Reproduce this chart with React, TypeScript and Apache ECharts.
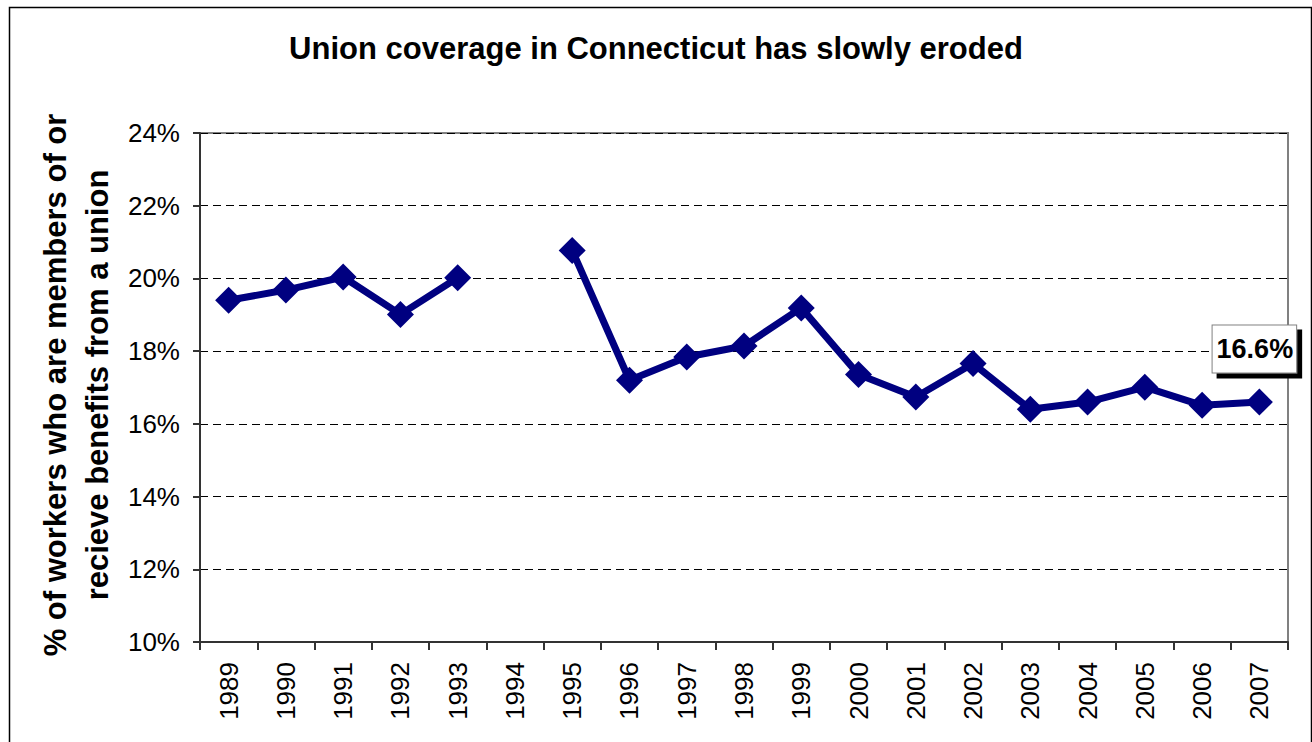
import React, { useEffect, useRef } from "react";
import * as echarts from "echarts";

const years = ["1989","1990","1991","1992","1993","1994","1995","1996","1997","1998","1999","2000","2001","2002","2003","2004","2005","2006","2007"];
const coverage: (number | null)[] = [19.4,19.68,20.04,19.01,20.02,null,20.77,17.2,17.84,18.14,19.19,17.36,16.74,17.66,16.4,16.6,17.01,16.51,16.6];
const yTicks = { min: 10, max: 24, interval: 2 };
const titleText = "Union coverage in Connecticut has slowly eroded";
const yAxisTitle = ["% of workers who are members of or", "recieve benefits from a union"];
const lastLabel = "16.6%";

const FONT = "'Liberation Sans', Arial, sans-serif";

export default function App() {
  const ref = useRef<HTMLDivElement>(null);
  useEffect(() => {
    if (!ref.current) return;
    const chart = echarts.init(ref.current, null, { renderer: "svg" });
    const data = coverage.map((v, i) =>
      i === coverage.length - 1
        ? {
            value: v,
            label: {
              show: true,
              formatter: lastLabel,
              position: "top",
              offset: [-5, -11],
              color: "#000",
              fontFamily: FONT,
              fontWeight: "bold",
              fontSize: 27,
              lineHeight: 30,
              backgroundColor: "#fff",
              borderColor: "#808080",
              borderWidth: 1,
              padding: [8, 3, 9, 4],
              shadowColor: "#000",
              shadowBlur: 0,
              shadowOffsetX: 5,
              shadowOffsetY: 5,
            },
          }
        : v
    );
    chart.setOption({
      animation: false,
      backgroundColor: "#fff",
      title: {
        text: titleText,
        left: "center",
        top: 28,
        textStyle: { fontFamily: FONT, fontWeight: "bold", fontSize: 31, color: "#000" },
      },
      graphic: [
        {
          type: "rect",
          left: 7,
          top: 5,
          shape: { width: 1302, height: 780 },
          style: { fill: "none", stroke: "#000", lineWidth: 1.5 },
          silent: true,
        },
        {
          type: "text",
          x: 76,
          y: 385,
          rotation: Math.PI / 2,
          style: {
            text: yAxisTitle.join("\n"),
            fontFamily: FONT,
            fontWeight: "bold",
            fontSize: 31,
            lineHeight: 42,
            align: "center",
            verticalAlign: "middle",
            fill: "#000",
          },
        },
      ],
      grid: {
        left: 200,
        top: 133,
        right: 24,
        bottom: 100,
        show: true,
        borderColor: "#808080",
        borderWidth: 2,
        backgroundColor: "#fff",
      },
      xAxis: {
        type: "category",
        data: years,
        boundaryGap: true,
        axisLine: { lineStyle: { color: "#333", width: 2 } },
        axisTick: { show: true, length: 8, lineStyle: { color: "#333", width: 2 } },
        axisLabel: {
          rotate: 90,
          margin: 20,
          color: "#000",
          fontFamily: FONT,
          fontSize: 26,
          interval: 0,
        },
      },
      yAxis: {
        type: "value",
        min: yTicks.min,
        max: yTicks.max,
        interval: yTicks.interval,
        axisLine: { show: true, lineStyle: { color: "#333", width: 2 } },
        axisTick: { show: true, length: 7, lineStyle: { color: "#333", width: 2 } },
        axisLabel: {
          formatter: (v: number) => `${v}%`,
          color: "#000",
          fontFamily: FONT,
          fontSize: 26,
          margin: 20,
        },
        splitLine: {
          show: true,
          lineStyle: { color: "#000", width: 1, type: [8, 5] },
        },
      },
      series: [
        {
          type: "line",
          data,
          connectNulls: false,
          symbol: "diamond",
          symbolSize: 27,
          itemStyle: { color: "#000080" },
          lineStyle: { color: "#000080", width: 7 },
        },
      ],
    });
    return () => chart.dispose();
  }, []);
  return <div ref={ref} style={{ position: "absolute", left: 0, top: 0, width: 1312, height: 742 }} />;
}
